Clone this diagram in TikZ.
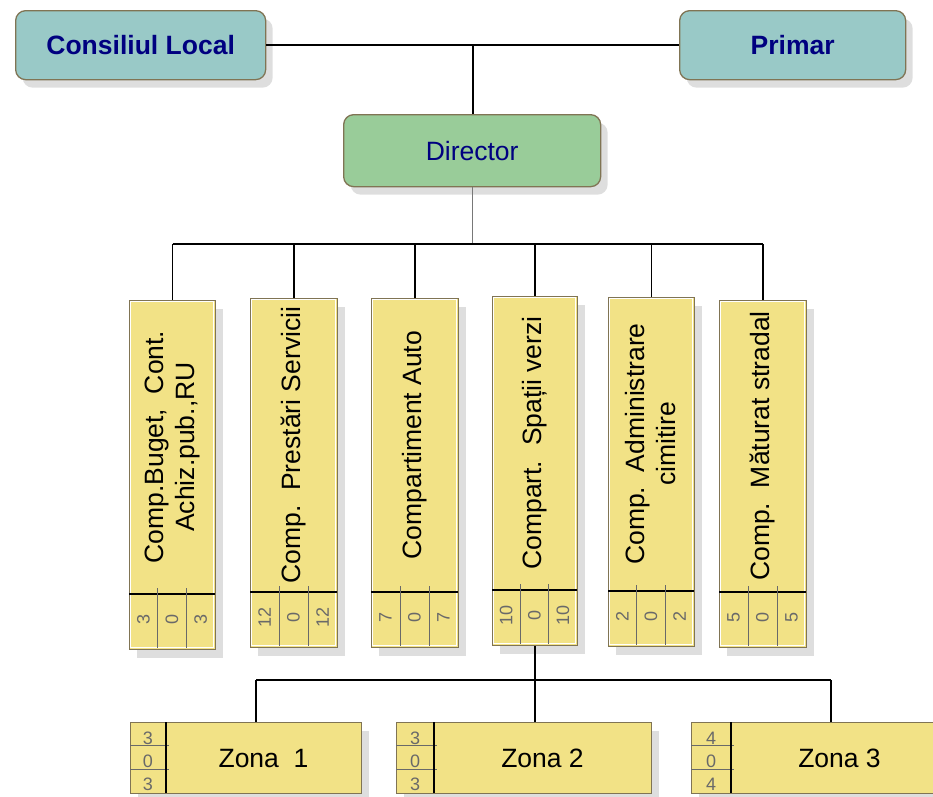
\documentclass[tikz,border=0pt]{standalone}
\usepackage{fontspec}
\setmainfont{Liberation Sans}
\usetikzlibrary{shadows}
\definecolor{tealfill}{RGB}{153,201,199}
\definecolor{greenfill}{RGB}{153,204,153}
\definecolor{yelfill}{RGB}{242,226,134}
\definecolor{bordc}{RGB}{128,116,84}
\definecolor{shadc}{RGB}{222,222,222}
\definecolor{navytext}{RGB}{0,0,128}
\definecolor{numc}{RGB}{105,105,105}
\definecolor{thinc}{RGB}{120,120,120}

\newcommand{\vertbox}[9]{%
  \node[ybox, minimum width={#3-#2}, minimum height={#5-#4}, anchor=north west] (#1) at (#2,#4) {};
  \draw[hilite] ({#2+1.8},{#4+1.8}) rectangle ({#3-1.8},{#5-1.8});
  \node[vlabel] (#1-lab) at ({(#2+#3)/2},{(#4+#6)/2}) {#7};
  \draw[divline] (#2,#6) -- (#3,#6);
  \draw[greyline] ({#2+(#3-#2)/3},{#6-6}) -- ({#2+(#3-#2)/3},{#5-1});
  \draw[greyline] ({#2+2*(#3-#2)/3},{#6-6}) -- ({#2+2*(#3-#2)/3},{#5-1});
  \node[vnum] (#1-n1) at ({#2+(#3-#2)/6},{(#6+#5)/2-2}) {#8};
  \node[vnum] (#1-n2) at ({#2+(#3-#2)/2},{(#6+#5)/2-2}) {#9};
  \node[vnum] (#1-n3) at ({#2+5*(#3-#2)/6},{(#6+#5)/2-2}) {#8};
}

\newcommand{\zonebox}[6]{% name, x1, x2, divx, label, number
  \node[ybox, minimum width={#3-#2}, minimum height=71, anchor=north west] (#1) at (#2,722) {};
  \draw[greyline] (#2,745) -- ({#4+3},745);
  \draw[greyline] (#2,769) -- ({#4+3},769);
  \draw[divline] (#4,722) -- (#4,793);
  \node[zlabel] (#1-lab) at ({(#4+#3)/2},758) {#5};
  \node[znum] (#1-n1) at ({(#2+#4)/2},744) {#6};
  \node[znum] (#1-n2) at ({(#2+#4)/2},767) {0};
  \node[znum] (#1-n3) at ({(#2+#4)/2},790) {#6};
}

\begin{document}
\begin{tikzpicture}[x=1pt,y=-1pt,
  shad/.style={drop shadow={shadow xshift=7pt,shadow yshift=-8pt,fill=shadc,opacity=1}},
  topbox/.style={draw=bordc,line width=1.3pt,rounded corners=10pt,fill=tealfill,shad,
     inner sep=0pt,font=\fontsize{26.5}{31}\selectfont\bfseries,text=navytext},
  dirbox/.style={topbox,fill=greenfill,font=\fontsize{26.5}{31}\selectfont},
  ybox/.style={draw=bordc,line width=1.3pt,fill=yelfill,shad,inner sep=0pt},
  hilite/.style={draw=white,line width=0.8pt},
  vlabel/.style={rotate=90,align=center,inner sep=0pt,font=\fontsize{26.5}{31}\selectfont},
  zlabel/.style={inner sep=0pt,font=\fontsize{26.5}{31}\selectfont},
  vnum/.style={rotate=90,inner sep=0pt,text=numc,font=\fontsize{18}{20}\selectfont},
  znum/.style={anchor=base,inner sep=0pt,text=numc,font=\fontsize{18}{20}\selectfont},
  divline/.style={draw=black,line width=1.3pt},
  greyline/.style={draw=numc,line width=1pt},
  conn/.style={draw=black,line width=1.5pt},
  thinconn/.style={draw=thinc,line width=1pt}
]
\useasboundingbox (0,0) rectangle (933,796);

% top level
\node[topbox, minimum width=250, minimum height=69, anchor=north west] (cl) at (15,10) {Consiliul Local};
\node[topbox, minimum width=226, minimum height=69, anchor=north west] (pr) at (679,10) {Primar};
\node[dirbox, minimum width=257, minimum height=72, anchor=north west] (dir) at (343,114) {Director};

\draw[conn] (cl.east) -- (pr.west);
\coordinate (topj) at (473,44);
\draw[conn] (topj) -- (topj |- dir.north);

% compartments
\vertbox{b1}{129}{215}{300}{649}{594}{Comp.Buget,\ \ Cont.\\Achiz.pub.,RU}{3}{0}
\vertbox{b2}{250}{337}{298}{647}{592}{Comp.\ \ Prestări Servicii}{12}{0}
\vertbox{b3}{371}{458}{298}{647}{592}{Compartiment Auto}{7}{0}
\vertbox{b4}{492}{577}{296}{645}{590}{Compart.\ \ Spații verzi}{10}{0}
\vertbox{b5}{608}{694}{297}{646}{591}{Comp.\ \ Administrare\\cimitire}{2}{0}
\vertbox{b6}{719}{806}{300}{647}{592}{Comp.\ \ Măturat stradal}{5}{0}

\coordinate (busA) at (472,244);
\draw[thinconn] (dir.south -| busA) -- (busA);
\draw[conn] (b1.north |- busA) -- (b6.north |- busA);
\foreach \b in {b1,b2,b3,b4,b5,b6}{
  \draw[conn] (\b.north |- busA) -- (\b.north);
}

% zones
\zonebox{z1}{130}{361}{166}{Zona\ \ 1}{3}
\zonebox{z2}{396}{651}{434}{Zona 2}{3}
\zonebox{z3}{691}{948}{731}{Zona 3}{4}

\coordinate (busB) at (535,680);
\coordinate (d1) at (256,680);
\coordinate (d3) at (831,680);
\draw[conn] (b4.south) -- (b4.south |- busB);
\draw[conn] (d1) -- (d3);
\draw[conn] (d1) -- (d1 |- z1.north);
\draw[conn] (b4.south |- busB) -- (b4.south |- z2.north);
\draw[conn] (d3) -- (d3 |- z3.north);
\end{tikzpicture}
\end{document}
